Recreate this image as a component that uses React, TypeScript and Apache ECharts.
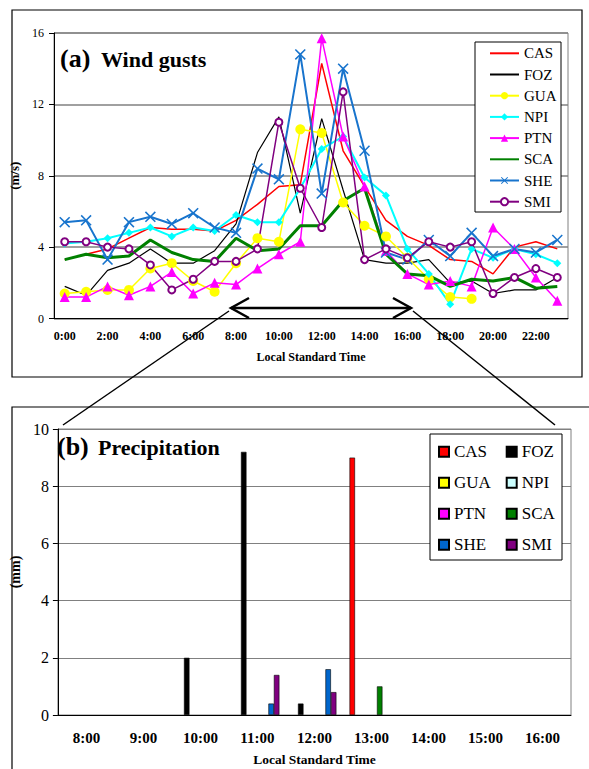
import React, { useEffect, useRef } from 'react';
import * as echarts from 'echarts';

// ---------- DATA ----------
const hours = ['0:00','1:00','2:00','3:00','4:00','5:00','6:00','7:00','8:00','9:00','10:00','11:00','12:00','13:00','14:00','15:00','16:00','17:00','18:00','19:00','20:00','21:00','22:00','23:00'];
const stations = ['CAS','FOZ','GUA','NPI','PTN','SCA','SHE','SMI'];

const casGust = [3.3, 3.6, 3.9, 4.5, 5.1, 5.0, 5.0, 4.9, 5.5, 6.4, 7.4, 7.5, 14.3, 9.4, 7.4, 5.5, 4.6, 4.1, 3.3, 3.2, 2.5, 4.0, 4.3, 3.9];
const fozGust = [1.8, 1.3, 2.7, 3.1, 3.9, 3.1, 3.1, 3.8, 5.3, 9.3, 11.3, 5.9, 11.2, 7.2, 3.3, 3.1, 3.1, 3.3, 2.0, 2.1, 1.4, 1.6, 1.6, 2.3];
const guaGust = [1.4, 1.5, 1.6, 1.6, 2.8, 3.1, 2.1, 1.5, 3.1, 4.5, 4.3, 10.6, 10.4, 6.5, 5.2, 4.6, 3.4, 2.2, 1.2, 1.1, null, null, null, null];
const npiGust = [4.2, 4.3, 4.5, 4.8, 5.1, 4.6, 5.1, 4.9, 5.8, 5.4, 5.4, 7.3, 9.5, 10.2, 7.9, 6.9, 3.9, 2.5, 0.8, 3.9, 3.4, 3.9, 3.6, 3.1];
const ptnGust = [1.2, 1.2, 1.8, 1.3, 1.8, 2.6, 1.4, 2.0, 1.9, 2.8, 3.6, 4.3, 15.7, 10.2, 7.4, 3.8, 2.5, 1.9, 2.1, 1.8, 5.1, 3.9, 2.3, 1.0];
const scaGust = [3.3, 3.6, 3.4, 3.5, 4.4, 3.7, 3.3, 3.2, 4.5, 3.8, 3.9, 5.2, 5.2, 6.6, 7.3, 3.6, 2.5, 2.4, 1.8, 2.2, 2.1, 2.3, 1.7, 1.8];
const sheGust = [5.4, 5.5, 3.3, 5.4, 5.7, 5.3, 5.9, 5.1, 4.8, 8.4, 7.8, 14.8, 7.0, 14.0, 9.4, 3.7, 3.3, 4.4, 3.5, 4.8, 3.5, 3.9, 3.7, 4.4];
const smiGust = [4.3, 4.3, 4.0, 3.9, 3.0, 1.6, 2.2, 3.2, 3.2, 3.9, 11.0, 7.3, 5.1, 12.7, 3.3, 3.9, 3.4, 4.3, 4.0, 4.3, 1.4, 2.3, 2.8, 2.3];

const precipHours = ['8:00','9:00','10:00','11:00','12:00','13:00','14:00','15:00','16:00'];
const casRain = [null, null, null, null, null, 9.0, null, null, null];
const fozRain = [null, null, 2.0, 9.2, 0.4, null, null, null, null];
const guaRain = [null, null, null, null, null, null, null, null, null];
const npiRain = [null, null, null, null, null, null, null, null, null];
const ptnRain = [null, null, null, null, null, null, null, null, null];
const scaRain = [null, null, null, null, null, 1.0, null, null, null];
const sheRain = [null, null, null, 0.4, 1.6, null, null, null, null];
const smiRain = [null, null, null, 1.4, 0.8, null, null, null, null];

const gustTicks = { min: 0, max: 16, interval: 4 };
const rainTicks = { min: 0, max: 10, interval: 2 };

// ---------- STYLES ----------
const SERIF = 'Liberation Serif';
const crossPath = 'path://M0,1L1,0L5,4L9,0L10,1L6,5L10,9L9,10L5,6L1,10L0,9L4,5Z';

const gustStyles: Record<string, any> = {
  CAS: { color: '#FF0000', width: 1.5, symbol: 'none', size: 0 },
  FOZ: { color: '#000000', width: 1.2, symbol: 'none', size: 0 },
  GUA: { color: '#FFFF00', width: 1.5, symbol: 'circle', size: 10 },
  NPI: { color: '#00FFFF', width: 2, symbol: 'diamond', size: 8 },
  PTN: { color: '#FF00FF', width: 1.5, symbol: 'triangle', size: 10 },
  SCA: { color: '#008000', width: 3, symbol: 'none', size: 0 },
  SHE: { color: '#1874CD', width: 2, symbol: crossPath, size: 11 },
  SMI: { color: '#800080', width: 1.5, symbol: 'emptyCircle', size: 7 },
};
const barColors: Record<string, string> = {
  CAS: '#FF0000', FOZ: '#000000', GUA: '#FFFF00', NPI: '#CCFFFF',
  PTN: '#FF00FF', SCA: '#008000', SHE: '#0066CC', SMI: '#800080',
};

const gustData: Record<string, (number | null)[]> = {
  CAS: casGust, FOZ: fozGust, GUA: guaGust, NPI: npiGust,
  PTN: ptnGust, SCA: scaGust, SHE: sheGust, SMI: smiGust,
};
const rainData: Record<string, (number | null)[]> = {
  CAS: casRain, FOZ: fozRain, GUA: guaRain, NPI: npiRain,
  PTN: ptnRain, SCA: scaRain, SHE: sheRain, SMI: smiRain,
};

export default function App() {
  const ref = useRef<HTMLDivElement>(null);
  useEffect(() => {
    if (!ref.current) return;
    const chart = echarts.init(ref.current, undefined, { renderer: 'svg' });

    const lineSeries = stations.map((s) => {
      const st = gustStyles[s];
      return {
        name: s,
        type: 'line',
        xAxisIndex: 0,
        yAxisIndex: 0,
        data: gustData[s],
        symbol: st.symbol,
        symbolSize: st.size,
        showSymbol: st.symbol !== 'none',
        showAllSymbol: true,
        connectNulls: false,
        lineStyle: { color: st.color, width: st.width },
        itemStyle: {
          color: st.color,
          borderColor: st.color,
          borderWidth: s === 'SMI' ? 1 : 0,
        },
        emphasis: { disabled: true },
      };
    });

    const barSeries = stations.map((s) => ({
      name: s + '_b',
      type: 'bar',
      xAxisIndex: 1,
      yAxisIndex: 1,
      data: rainData[s],
      barGap: '0%',
      barCategoryGap: '23%',
      itemStyle: { color: barColors[s], borderColor: '#000', borderWidth: 0.6 },
      emphasis: { disabled: true },
    }));

    const legendA = stations.map((s) => {
      const st = gustStyles[s];
      if (st.symbol === 'none') return { name: s, itemStyle: { opacity: 0 } };
      if (s === 'SMI') return { name: s, itemStyle: { borderWidth: 1 } };
      return { name: s };
    });

    const axisTextA = { fontFamily: SERIF, color: '#000' };

    chart.setOption({
      animation: false,
      backgroundColor: '#fff',
      grid: [
        { left: 54, top: 33, width: 514, height: 285.5, show: true, borderColor: '#808080', borderWidth: 1, backgroundColor: 'transparent' },
        { left: 54, top: 429, width: 517, height: 286, show: true, borderColor: '#808080', borderWidth: 1, backgroundColor: 'transparent' },
      ],
      xAxis: [
        {
          type: 'category', gridIndex: 0, data: hours, boundaryGap: true,
          axisLine: { lineStyle: { color: '#000', width: 1 } },
          axisTick: { interval: 1, length: 5, lineStyle: { color: '#000' } },
          axisLabel: { ...axisTextA, interval: 1, fontWeight: 'bold', fontSize: 12, margin: 11 },
          name: 'Local Standard Time', nameLocation: 'middle', nameGap: 32,
          nameTextStyle: { ...axisTextA, fontWeight: 'bold', fontSize: 12 },
        },
        {
          type: 'category', gridIndex: 1, data: precipHours, boundaryGap: true,
          axisLine: { lineStyle: { color: '#000', width: 1 } },
          axisTick: { interval: 0, length: 5, lineStyle: { color: '#000' } },
          axisLabel: { ...axisTextA, interval: 0, fontWeight: 'bold', fontSize: 15, margin: 15 },
          name: 'Local Standard Time', nameLocation: 'middle', nameGap: 37,
          nameTextStyle: { ...axisTextA, fontWeight: 'bold', fontSize: 13.5 },
        },
      ],
      yAxis: [
        {
          type: 'value', gridIndex: 0, ...gustTicks,
          axisLine: { show: true, lineStyle: { color: '#000', width: 1 } },
          axisTick: { show: true, length: 5, lineStyle: { color: '#000' } },
          axisLabel: { ...axisTextA, fontSize: 12, margin: 10 },
          splitLine: { lineStyle: { color: '#808080', width: 1.5 } },
          name: '(m/s)', nameLocation: 'middle', nameGap: 25,
          nameTextStyle: { ...axisTextA, fontWeight: 'bold', fontSize: 13 },
        },
        {
          type: 'value', gridIndex: 1, ...rainTicks,
          axisLine: { show: true, lineStyle: { color: '#000', width: 1 } },
          axisTick: { show: true, length: 5, lineStyle: { color: '#000' } },
          axisLabel: { ...axisTextA, fontSize: 16, margin: 9 },
          splitLine: { lineStyle: { color: '#808080', width: 1.2 } },
          name: '(mm)', nameLocation: 'middle', nameGap: 21,
          nameTextStyle: { ...axisTextA, fontWeight: 'bold', fontSize: 14 },
        },
      ],
      legend: [
        {
          data: legendA, orient: 'vertical', left: 489, top: 45.3, padding: 0,
          itemWidth: 29, itemHeight: 9, itemGap: 5.2, selectedMode: false,
          textStyle: { fontFamily: SERIF, fontSize: 15, lineHeight: 16, color: '#000' },
          z: 10,
        },
        {
          data: ['CAS_b', 'GUA_b', 'PTN_b', 'SHE_b'], orient: 'vertical', left: 438, top: 442.7, padding: 0,
          itemWidth: 10, itemHeight: 10, itemGap: 13, icon: 'rect', selectedMode: false,
          formatter: (n: string) => n.replace('_b', ''),
          textStyle: { fontFamily: SERIF, fontSize: 17, lineHeight: 18, color: '#000' },
          z: 10,
        },
        {
          data: ['FOZ_b', 'NPI_b', 'SCA_b', 'SMI_b'], orient: 'vertical', left: 505.7, top: 442.7, padding: 0,
          itemWidth: 10, itemHeight: 10, itemGap: 13, icon: 'rect', selectedMode: false,
          formatter: (n: string) => n.replace('_b', ''),
          textStyle: { fontFamily: SERIF, fontSize: 17, lineHeight: 18, color: '#000' },
          z: 10,
        },
      ],
      graphic: [
        { type: 'rect', z: 1, shape: { x: 12, y: 10, width: 570, height: 367 }, style: { fill: 'none', stroke: '#000', lineWidth: 1.2 } },
        { type: 'rect', z: 1, shape: { x: 12, y: 407, width: 620, height: 400 }, style: { fill: 'none', stroke: '#000', lineWidth: 1.2 } },
        { type: 'rect', z: 5, shape: { x: 475, y: 42, width: 86, height: 170 }, style: { fill: '#fff', stroke: '#000', lineWidth: 1 } },
        { type: 'rect', z: 5, shape: { x: 430, y: 434, width: 132, height: 126 }, style: { fill: '#fff', stroke: '#000', lineWidth: 1 } },
        { type: 'text', z: 20, x: 60, y: 58, style: { text: '(a)', fontFamily: SERIF, fontWeight: 'bold', fontSize: 26, fill: '#000', verticalAlign: 'middle' } },
        { type: 'text', z: 20, x: 101, y: 59.2, style: { text: 'Wind gusts', fontFamily: SERIF, fontWeight: 'bold', fontSize: 22, fill: '#000', verticalAlign: 'middle' } },
        { type: 'text', z: 20, x: 57, y: 446.2, style: { text: '(b)', fontFamily: SERIF, fontWeight: 'bold', fontSize: 26, fill: '#000', verticalAlign: 'middle' } },
        { type: 'text', z: 20, x: 98, y: 447.5, style: { text: 'Precipitation', fontFamily: SERIF, fontWeight: 'bold', fontSize: 22, fill: '#000', verticalAlign: 'middle' } },
        { type: 'line', z: 20, shape: { x1: 231, y1: 308, x2: 411, y2: 308 }, style: { stroke: '#000', lineWidth: 2.5 } },
        { type: 'polyline', z: 20, shape: { points: [[249, 298], [231, 308], [249, 318]] }, style: { stroke: '#000', lineWidth: 2.5, fill: 'none' } },
        { type: 'polyline', z: 20, shape: { points: [[393, 298], [411, 308], [393, 318]] }, style: { stroke: '#000', lineWidth: 2.5, fill: 'none' } },
        { type: 'line', z: 20, shape: { x1: 229, y1: 311, x2: 63, y2: 425 }, style: { stroke: '#000', lineWidth: 1.5 } },
        { type: 'line', z: 20, shape: { x1: 413, y1: 311, x2: 555, y2: 425 }, style: { stroke: '#000', lineWidth: 1.5 } },
      ],
      series: [...lineSeries, ...barSeries],
    });
    return () => chart.dispose();
  }, []);
  return <div ref={ref} style={{ position: 'absolute', left: 0, top: 0, width: 589, height: 769 }} />;
}
